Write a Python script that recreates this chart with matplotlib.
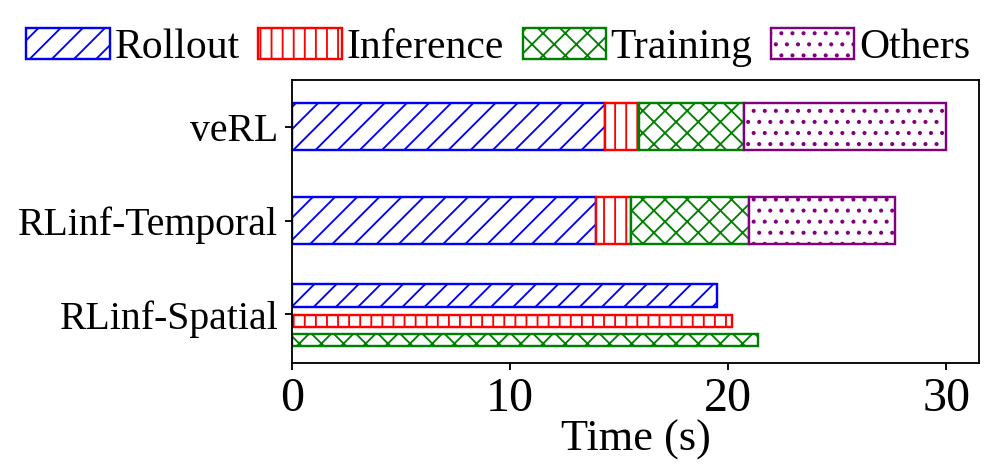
import matplotlib
matplotlib.use("Agg")
import matplotlib.pyplot as plt
from matplotlib.patches import Patch

systems = ["veRL", "RLinf-Temporal", "RLinf-Spatial"]
phases = ["Rollout", "Inference", "Training", "Others"]
colors = ["blue", "red", "green", "purple"]
hatches = ["//", "||", "xx", ".."]

# stacked durations (s) for veRL and RLinf-Temporal
verl = [14.36, 1.55, 4.79, 9.30]
temporal = [13.95, 1.57, 5.44, 6.67]
# RLinf-Spatial: phases run concurrently (end times)
spatial = [19.49, 20.19, 21.37]

DPI = 133
plt.rcParams["font.family"] = ["Liberation Serif", "DejaVu Serif"]
plt.rcParams["hatch.linewidth"] = 1.0

fig = plt.figure(figsize=(997 / DPI, 476 / DPI), dpi=DPI)
ax = fig.add_axes([0.293, 0.237, 0.982 - 0.293, 0.832 - 0.237])

ypos = [2, 1, 0]
h = 0.5
for yi, vals in zip(ypos[:2], [verl, temporal]):
    left = 0.0
    for v, c, ht in zip(vals, colors, hatches):
        ax.barh(yi, v, height=h, left=left, color="white", edgecolor=c,
                hatch=ht, linewidth=1.3)
        left += v

sp_off = [0.2, -0.07, -0.27]
sp_h = [0.25, 0.13, 0.13]
for v, c, ht, off, hh in zip(spatial, colors[:3], hatches[:3], sp_off, sp_h):
    ax.barh(ypos[2] + off, v, height=hh, color="white", edgecolor=c,
            hatch=ht, linewidth=1.3)

ax.set_xlim(0, 31.5)
ax.set_ylim(-0.52, 2.5)
ax.set_yticks(ypos)
ax.set_yticklabels(systems, fontsize=21.5)
ax.set_xticks([0, 10, 20, 30])
ax.tick_params(axis="x", labelsize=26, length=4, width=1)
ax.tick_params(axis="y", length=4, width=1)
ax.set_xlabel("Time (s)", fontsize=24, labelpad=-1)
for s in ax.spines.values():
    s.set_linewidth(1)

handles = [Patch(facecolor="white", edgecolor=c, hatch=ht, linewidth=1.3)
           for c, ht in zip(colors, hatches)]
fig.legend(handles, phases, loc="center", bbox_to_anchor=(0.5, 0.9),
           ncol=4, frameon=False, fontsize=22.5, handlelength=2.0,
           handleheight=0.75, handletextpad=0.12, columnspacing=0.45)

fig.savefig("out.png", dpi=DPI)
